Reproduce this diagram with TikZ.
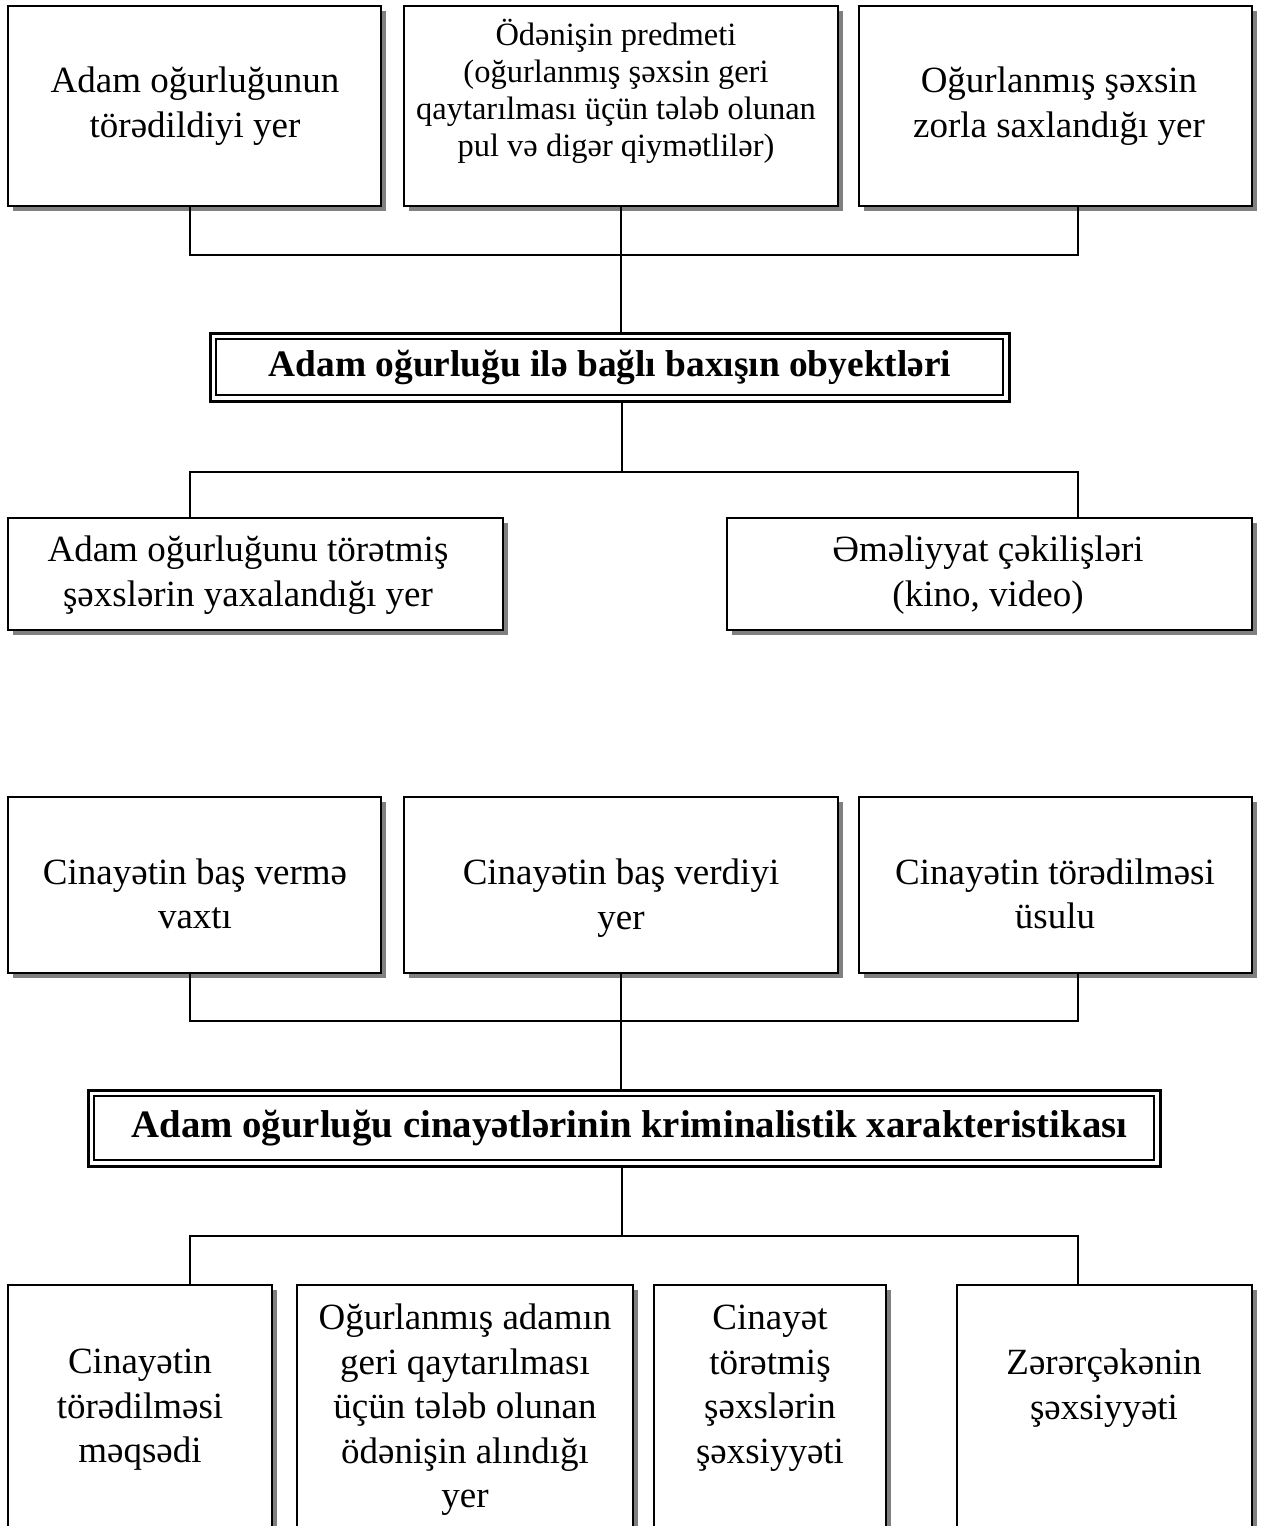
\documentclass[tikz,border=0pt]{standalone}
\usepackage{fontspec}
\setmainfont{Liberation Serif}
\usetikzlibrary{shadows}
\tikzset{
  x=1pt, y=-1pt,
  box/.style={draw, line width=2pt, fill=white, rectangle, inner sep=0pt, outer sep=0pt,
    drop shadow={shadow xshift=5pt, shadow yshift=-5pt, fill=black!50, opacity=1}},
  ttl/.style={draw, line width=3pt, fill=white, rectangle, inner sep=0pt, outer sep=0pt},
  txt/.style={align=center, inner sep=0pt, font=\fontsize{37}{44.5}\selectfont},
  stxt/.style={align=center, inner sep=0pt, font=\fontsize{32.5}{37}\selectfont},
  btxt/.style={align=center, inner sep=0pt, font=\fontsize{37.4}{44}\selectfont\bfseries},
  conn/.style={line width=2pt},
}
\begin{document}
\begin{tikzpicture}
\useasboundingbox (0,0) rectangle (1265,1526);
\clip (0,0) rectangle (1265,1526);
\fill[white] (0,0) rectangle (1265,1526);

% junction coordinates
\coordinate (j1l) at (190,255);  \coordinate (j1r) at (1078,255);
\coordinate (j2l) at (190,472);  \coordinate (j2r) at (1078,472); \coordinate (j2c) at (622,472);
\coordinate (j3l) at (190,1021); \coordinate (j3r) at (1078,1021);
\coordinate (j4l) at (190,1236); \coordinate (j4r) at (1078,1236); \coordinate (j4c) at (622,1236);

% ---------- upper diagram ----------
\node[box, minimum width=373, minimum height=200] (b1) at (194.5,106) {};
\node[box, minimum width=434, minimum height=200] (b2) at (621,106) {};
\node[box, minimum width=393, minimum height=200] (b3) at (1055.5,106) {};
\node[txt] (tb1) at (195,106) {Adam oğurluğunun\\törədildiyi yer};
\node[stxt] (tb2) at (616,91) {Ödənişin predmeti\\(oğurlanmış şəxsin geri\\qaytarılması üçün tələb olunan\\pul və digər qiymətlilər)};
\node[txt] (tb3) at (1059,106) {Oğurlanmış şəxsin\\zorla saxlandığı yer};

\node[ttl, minimum width=799, minimum height=68] (t1) at (609.5,367) {};
\draw[line width=1.4pt] ([shift={(6,6)}]t1.north west) rectangle ([shift={(-6,-6)}]t1.south east);
\node[btxt] (tt1) at (610,367) {Adam oğurluğu ilə bağlı baxışın obyektləri};

\node[box, minimum width=495, minimum height=112] (b4) at (255.5,574) {};
\node[box, minimum width=525, minimum height=112] (b5) at (989.5,574) {};
\node[txt] (tb4) at (248,575) {Adam oğurluğunu törətmiş\\şəxslərin yaxalandığı yer};
\node[txt] (tb5) at (988,575) {Əməliyyat çəkilişləri\\(kino, video)};

\draw[conn] (b1.south -| j1l) -- (j1l) -- (j1r) -- (b3.south -| j1r);
\draw[conn] (b2.south) -- (b2.south |- t1.north);
\draw[conn] (t1.south -| j2c) -- (j2c);
\draw[conn] (b4.north -| j2l) -- (j2l) -- (j2r) -- (b5.north -| j2r);

% ---------- lower diagram ----------
\node[box, minimum width=373, minimum height=176] (b6) at (194.5,885) {};
\node[box, minimum width=434, minimum height=176] (b7) at (621,885) {};
\node[box, minimum width=393, minimum height=176] (b8) at (1055.5,885) {};
\node[txt] (tb6) at (195,894) {Cinayətin baş vermə\\vaxtı};
\node[txt] (tb7) at (621,898) {Cinayətin baş verdiyi\\yer};
\node[txt] (tb8) at (1055,894) {Cinayətin törədilməsi\\üsulu};

\node[ttl, minimum width=1072, minimum height=76] (t2) at (624,1128) {};
\draw[line width=1.4pt] ([shift={(6,6)}]t2.north west) rectangle ([shift={(-6,-6)}]t2.south east);
\node[btxt, font=\fontsize{38.8}{44}\selectfont\bfseries] (tt2) at (629.5,1128) {Adam oğurluğu cinayətlərinin kriminalistik xarakteristikası};

\node[box, minimum width=264, minimum height=315] (b9) at (140,1442.5) {};
\node[box, minimum width=336, minimum height=315] (b10) at (465,1442.5) {};
\node[box, minimum width=232, minimum height=315] (b11) at (770,1442.5) {};
\node[box, minimum width=295, minimum height=315] (b12) at (1104.5,1442.5) {};
\node[txt] (tb9) at (140,1410) {Cinayətin\\törədilməsi\\məqsədi};
\node[txt] (tb10) at (465,1410) {Oğurlanmış adamın\\geri qaytarılması\\üçün tələb olunan\\ödənişin alındığı\\yer};
\node[txt] (tb11) at (770,1388) {Cinayət\\törətmiş\\şəxslərin\\şəxsiyyəti};
\node[txt] (tb12) at (1104,1388) {Zərərçəkənin\\şəxsiyyəti};

\draw[conn] (b6.south -| j3l) -- (j3l) -- (j3r) -- (b8.south -| j3r);
\draw[conn] (b7.south) -- (b7.south |- t2.north);
\draw[conn] (t2.south -| j4c) -- (j4c);
\draw[conn] (b9.north -| j4l) -- (j4l) -- (j4r) -- (b12.north -| j4r);
\end{tikzpicture}
\end{document}
